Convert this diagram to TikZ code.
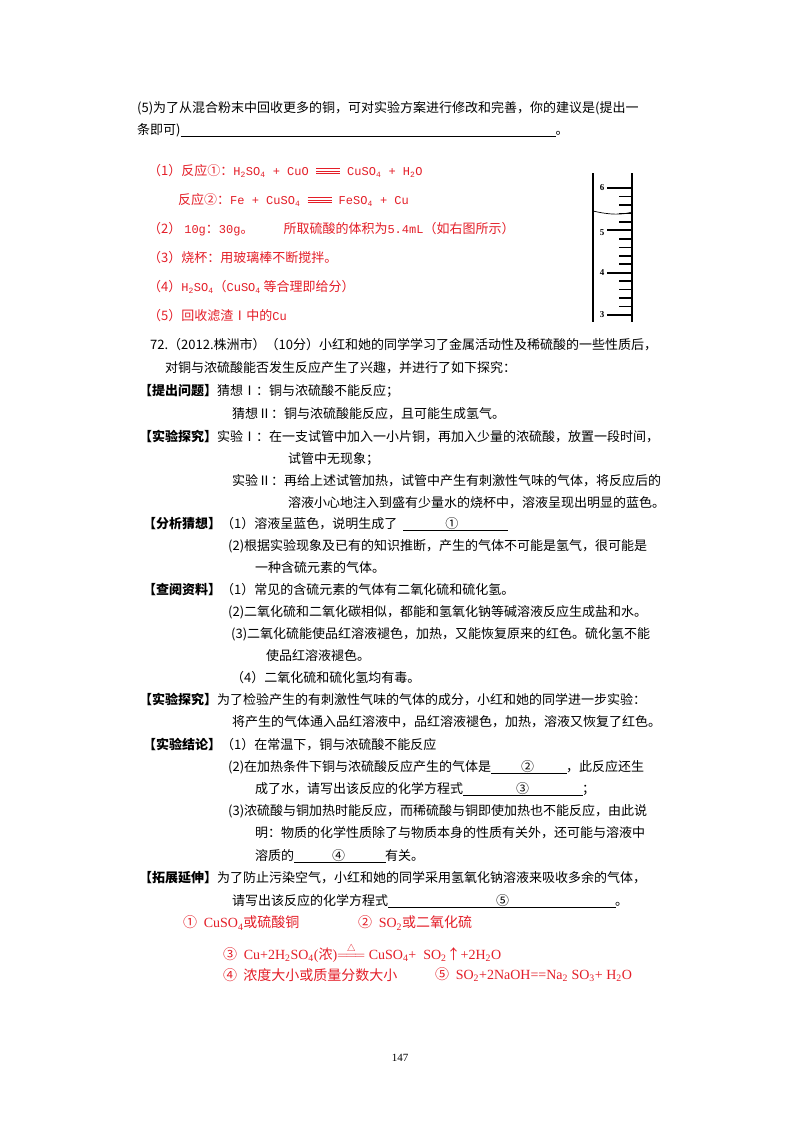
\documentclass[tikz,border=0pt]{standalone}
\usepackage{fontspec}
\setmainfont{Liberation Serif}
\newfontfamily\cjk{Noto Sans CJK SC}
\newfontfamily\monof{Liberation Mono}
\newcommand{\lat}[1]{{\monof\fontsize{12}{14}\selectfont #1}}
\newcommand{\eqq}{\rule[1.5pt]{24pt}{1.1pt}\llap{\rule[4pt]{24pt}{1.1pt}}\llap{\rule[6.5pt]{24pt}{1.1pt}}}
\definecolor{ans}{RGB}{228,30,40}
\begin{document}
\begin{tikzpicture}[x=1pt,y=-1pt,
  t/.style={anchor=west,inner sep=0pt,font=\cjk\fontsize{13}{15}\selectfont},
  r/.style={t,text=ans},
  rs/.style={anchor=west,inner sep=0pt,text=ans,font=\fontsize{14}{16}\selectfont}]
\useasboundingbox (0,0) rectangle (800,1132);
\fill[white] (0,0) rectangle (800,1132);
\node[t] (a1) at (137,108) {(5)为了从混合粉末中回收更多的铜，可对实验方案进行修改和完善，你的建议是(提出一};
\node[t] (a2) at (137,130) {条即可)\rule[-2pt]{375pt}{0.4pt}。};
\node[r] (b1) at (148,171) {（1）反应①：\lat{H\textsubscript{2}SO\textsubscript{4} + CuO \eqq{} CuSO\textsubscript{4} + H\textsubscript{2}O}};
\node[r] (b2) at (178,200) {反应②：\lat{Fe + CuSO\textsubscript{4} \eqq{} FeSO\textsubscript{4} + Cu}};
\node[r] (b3) at (148,229) {（2） \lat{10g}：\lat{30g}。\hspace{30pt}所取硫酸的体积为\lat{5.4mL}（如右图所示）};
\node[r] (b4) at (148,258) {（3）烧杯：用玻璃棒不断搅拌。};
\node[r] (b5) at (148,287) {（4）\lat{H\textsubscript{2}SO\textsubscript{4}}（\lat{CuSO\textsubscript{4}} 等合理即给分）};
\node[r] (b6) at (148,316) {（5）回收滤渣Ⅰ中的\lat{Cu}};
% cylinder
\draw[line width=1.8pt] (593,173) -- (593,322) (632,173) -- (632,322);
\foreach \i in {0,...,15}{
  \pgfmathsetmacro{\yy}{315-\i*8.46}
  \pgfmathtruncatemacro{\m}{mod(\i,5)}
  \ifnum\m=0 \draw[line width=2pt] (607,\yy) -- (632,\yy);
  \else \draw[line width=1.6pt] (619,\yy) -- (632,\yy); \fi}
\node[font=\bfseries\fontsize{9}{10}\selectfont] (l6) at (602,188) {6};
\node[font=\bfseries\fontsize{9}{10}\selectfont] (l5) at (602,233) {5};
\node[font=\bfseries\fontsize{9}{10}\selectfont] (l4) at (602,273) {4};
\node[font=\bfseries\fontsize{9}{10}\selectfont] (l3) at (602,315) {3};
\draw[line width=0.7pt] (593,211) .. controls (610,215) and (622,215) .. (632,212);
% main question
\node[t] (c1) at (150,345) {72.（2012.株洲市）（10分）小红和她的同学学习了金属活动性及稀硫酸的一些性质后，};
\node[t] (c2) at (165,368) {对铜与浓硫酸能否发生反应产生了兴趣，并进行了如下探究：};
\node[t] (c3) at (139,391) {\textbf{【提出问题】}猜想Ⅰ：铜与浓硫酸不能反应；};
\node[t] (c4) at (232,414) {猜想Ⅱ：铜与浓硫酸能反应，且可能生成氢气。};
\node[t] (c5) at (139,437) {\textbf{【实验探究】}实验Ⅰ：在一支试管中加入一小片铜，再加入少量的浓硫酸，放置一段时间，};
\node[t] (c6) at (288,459) {试管中无现象；};
\node[t] (c7) at (232,481) {实验Ⅱ：再给上述试管加热，试管中产生有刺激性气味的气体，将反应后的};
\node[t] (c8) at (288,503) {溶液小心地注入到盛有少量水的烧杯中，溶液呈现出明显的蓝色。};
\node[t] (c9) at (143,524) {\textbf{【分析猜想】}（1）溶液呈蓝色，说明生成了\hspace{6pt}\rlap{\rule[-2pt]{105pt}{0.4pt}}\hspace{42pt}①};
\node[t] (c10) at (228,546) {(2)根据实验现象及已有的知识推断，产生的气体不可能是氢气，很可能是};
\node[t] (c11) at (255,568) {一种含硫元素的气体。};
\node[t] (c12) at (143,590) {\textbf{【查阅资料】}（1）常见的含硫元素的气体有二氧化硫和硫化氢。};
\node[t] (c13) at (228,612) {(2)二氧化硫和二氧化碳相似，都能和氢氧化钠等碱溶液反应生成盐和水。};
\node[t] (c14) at (231,634) {(3)二氧化硫能使品红溶液褪色，加热，又能恢复原来的红色。硫化氢不能};
\node[t] (c15) at (266,656) {使品红溶液褪色。};
\node[t] (c16) at (231,678) {（4）二氧化硫和硫化氢均有毒。};
\node[t] (c17) at (139,700) {\textbf{【实验探究】}为了检验产生的有刺激性气味的气体的成分，小红和她的同学进一步实验：};
\node[t] (c18) at (232,722) {将产生的气体通入品红溶液中，品红溶液褪色，加热，溶液又恢复了红色。};
\node[t] (c19) at (143,745) {\textbf{【实验结论】}（1）在常温下，铜与浓硫酸不能反应};
\node[t] (c20) at (228,767) {(2)在加热条件下铜与浓硫酸反应产生的气体是\rlap{\rule[-2pt]{76pt}{0.4pt}}\hspace{30pt}②\hspace{32pt}，此反应还生};
\node[t] (c21) at (255,789) {成了水，请写出该反应的化学方程式\rlap{\rule[-2pt]{120pt}{0.4pt}}\hspace{53pt}③\hspace{53pt}；};
\node[t] (c22) at (228,811) {(3)浓硫酸与铜加热时能反应，而稀硫酸与铜即使加热也不能反应，由此说};
\node[t] (c23) at (255,833) {明：物质的化学性质除了与物质本身的性质有关外，还可能与溶液中};
\node[t] (c24) at (255,856) {溶质的\rlap{\rule[-2pt]{92pt}{0.4pt}}\hspace{38pt}④\hspace{40pt}有关。};
\node[t] (c25) at (139,878) {\textbf{【拓展延伸】}为了防止污染空气，小红和她的同学采用氢氧化钠溶液来吸收多余的气体，};
\node[t] (c26) at (232,901) {请写出该反应的化学方程式\rlap{\rule[-2pt]{228pt}{0.4pt}}\hspace{108pt}⑤\hspace{106pt}。};
\node[rs] (d1) at (183,923) {{\cjk①\ } CuSO\textsubscript{4}{\cjk 或硫酸铜}};
\node[rs] (d2) at (358,923) {{\cjk②\ } SO\textsubscript{2}{\cjk 或二氧化硫}};
\node[rs] (d3) at (223,955) {{\cjk③\ } Cu+2H\textsubscript{2}SO\textsubscript{4}({\cjk 浓})\raisebox{0pt}[0pt][0pt]{$\stackrel{\triangle}{=\!=\!=}$} CuSO\textsubscript{4}+\ \ SO\textsubscript{2}{\cjk↑}+2H\textsubscript{2}O};
\node[rs] (d4) at (223,975) {{\cjk④\ \ 浓度大小或质量分数大小}};
\node[rs] (d5) at (435,975) {{\cjk⑤\ } SO\textsubscript{2}+2NaOH==Na\textsubscript{2} SO\textsubscript{3}+\ H\textsubscript{2}O};
\node[font=\fontsize{11}{12}\selectfont] (pg) at (400,1058) {147};
\end{tikzpicture}
\end{document}
